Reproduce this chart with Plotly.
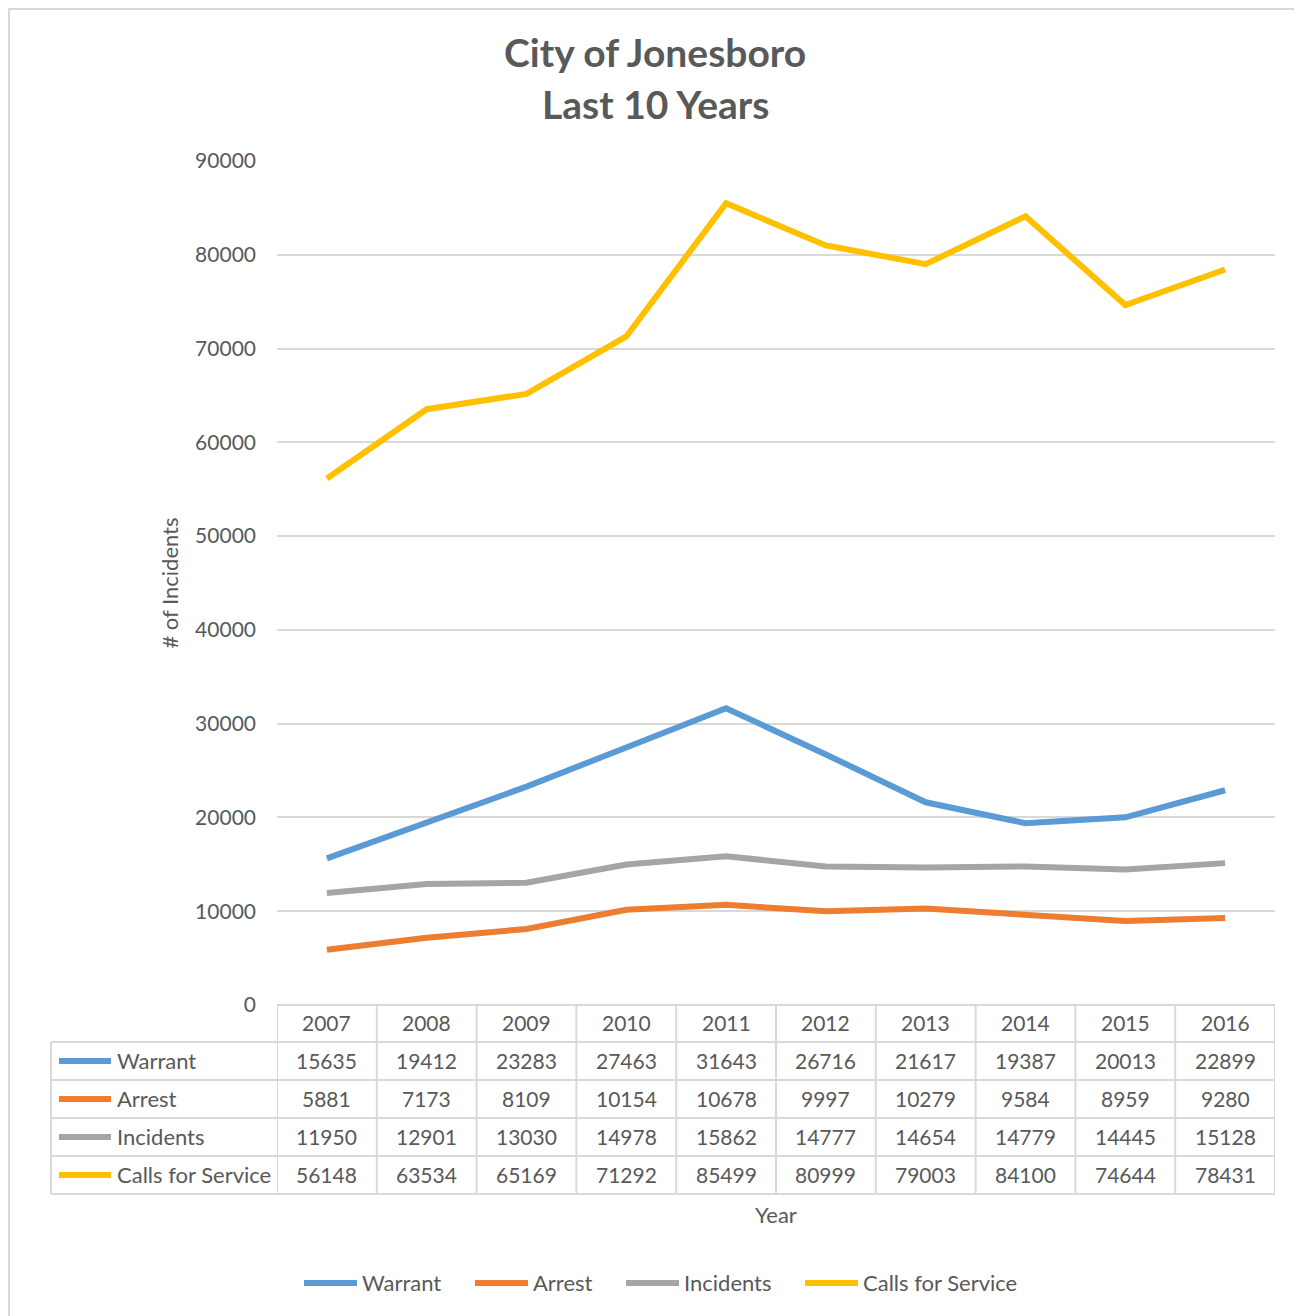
import plotly.graph_objects as go

years = ["2007", "2008", "2009", "2010", "2011", "2012", "2013", "2014", "2015", "2016"]
warrant = [15635, 19412, 23283, 27463, 31643, 26716, 21617, 19387, 20013, 22899]
arrest = [5881, 7173, 8109, 10154, 10678, 9997, 10279, 9584, 8959, 9280]
incidents = [11950, 12901, 13030, 14978, 15862, 14777, 14654, 14779, 14445, 15128]
calls = [56148, 63534, 65169, 71292, 85499, 80999, 79003, 84100, 74644, 78431]

series_names = ["Warrant", "Arrest", "Incidents", "Calls for Service"]
series_values = [warrant, arrest, incidents, calls]
series_colors = ["#5B9BD5", "#ED7D31", "#A5A5A5", "#FFC000"]

title_lines = ["City of Jonesboro", "Last 10 Years"]
y_title = "# of Incidents"
x_title = "Year"

FONT = "Lato"
TEXT = "#595959"
GRID = "#D9D9D9"

# page has an 8px body margin, so the figure is drawn 8px in from the corner
OFF = 8
W_FIG, H_FIG = 1302 - OFF, 1316 - OFF
L, R, T, B = 277 - OFF, 27, 161 - OFF, 311
PW = W_FIG - L - R
PH = H_FIG - T - B


def px_x(p):
    # page pixel -> paper x
    return (p - OFF - L) / PW


def px_y(p):
    # page pixel -> paper y
    return (H_FIG - B - (p - OFF)) / PH


fig = go.Figure()
for name, vals, color in zip(series_names, series_values, series_colors):
    fig.add_trace(
        go.Scatter(
            x=years,
            y=vals,
            mode="lines",
            name=name,
            line=dict(color=color, width=6),
            showlegend=False,
        )
    )

shapes = []
annotations = []

# outer chart border
shapes.append(dict(type="rect", xref="paper", yref="paper",
                   x0=px_x(9), x1=px_x(1299), y0=px_y(1330), y1=px_y(9),
                   line=dict(color=GRID, width=2)))

# data table
row_edges = [1005, 1042, 1080, 1118, 1156, 1194]
tbl_left, tbl_right = 51, 1275
for i, yy in enumerate(row_edges):
    x0 = 277 if i == 0 else tbl_left
    shapes.append(dict(type="line", xref="paper", yref="paper",
                       x0=px_x(x0), x1=px_x(tbl_right), y0=px_y(yy), y1=px_y(yy),
                       line=dict(color=GRID, width=2)))
shapes.append(dict(type="line", xref="paper", yref="paper",
                   x0=px_x(tbl_left), x1=px_x(tbl_left), y0=px_y(row_edges[1]), y1=px_y(row_edges[-1]),
                   line=dict(color=GRID, width=2)))
for k in range(len(years) + 1):
    shapes.append(dict(type="line", xref="x", yref="paper",
                       x0=k - 0.5, x1=k - 0.5, y0=px_y(row_edges[0]), y1=px_y(row_edges[-1]),
                       line=dict(color=GRID, width=2)))

num_font = dict(family=FONT, size=21, color=TEXT)
label_font = dict(family=FONT, size=22, color=TEXT)

for i, yr in enumerate(years):
    annotations.append(dict(x=i, xref="x", yref="paper", y=px_y((row_edges[0] + row_edges[1]) / 2 - 1),
                            text=yr, showarrow=False, font=num_font, xanchor="center", yanchor="middle"))

for r, (name, vals, color) in enumerate(zip(series_names, series_values, series_colors)):
    yc = (row_edges[r + 1] + row_edges[r + 2]) / 2
    shapes.append(dict(type="line", xref="paper", yref="paper",
                       x0=px_x(59), x1=px_x(111), y0=px_y(yc), y1=px_y(yc),
                       line=dict(color=color, width=6)))
    annotations.append(dict(x=px_x(115), xref="paper", yref="paper", y=px_y(yc - 1),
                            text=name, showarrow=False, font=label_font, xanchor="left", yanchor="middle"))
    for i, v in enumerate(vals):
        annotations.append(dict(x=i, xref="x", yref="paper", y=px_y(yc - 1),
                                text=str(v), showarrow=False, font=num_font,
                                xanchor="center", yanchor="middle"))

annotations.append(dict(x=px_x(776), xref="paper", yref="paper", y=px_y(1214),
                        text=x_title, showarrow=False, font=dict(family=FONT, size=22, color=TEXT),
                        xanchor="center", yanchor="middle"))

# legend at bottom
leg_x = [302, 473, 624, 803]
for name, color, lx in zip(series_names, series_colors, leg_x):
    shapes.append(dict(type="line", xref="paper", yref="paper",
                       x0=px_x(lx + 2), x1=px_x(lx + 55), y0=px_y(1283), y1=px_y(1283),
                       line=dict(color=color, width=6)))
    annotations.append(dict(x=px_x(lx + 58), xref="paper", yref="paper", y=px_y(1282),
                            text=name, showarrow=False, font=label_font,
                            xanchor="left", yanchor="middle"))

for line, yy in zip(title_lines, [52, 104]):
    annotations.append(dict(x=px_x(655), xref="paper", yref="paper", y=px_y(yy),
                            text=f"<b>{line}</b>", showarrow=False,
                            font=dict(family=FONT, size=39, color=TEXT),
                            xanchor="center", yanchor="middle"))

fig.update_layout(
    width=W_FIG,
    height=H_FIG,
    margin=dict(l=L, r=R, t=T, b=B),
    paper_bgcolor="white",
    plot_bgcolor="white",
    font=dict(family=FONT, color=TEXT),
    shapes=shapes,
    annotations=annotations,
    showlegend=False,
)
fig.update_xaxes(
    type="category",
    range=[-0.5, len(years) - 0.5],
    showticklabels=False,
    showgrid=False,
    zeroline=False,
    ticks="",
)
fig.update_yaxes(
    range=[0, 90000],
    dtick=10000,
    tickformat="d",
    showgrid=True,
    gridcolor=GRID,
    gridwidth=1.5,
    zeroline=False,
    tickfont=dict(family=FONT, size=21, color=TEXT),
    ticklabelstandoff=20,
    title=dict(text=y_title, font=dict(family=FONT, size=22, color=TEXT), standoff=10),
)

fig.write_html("out.html")
